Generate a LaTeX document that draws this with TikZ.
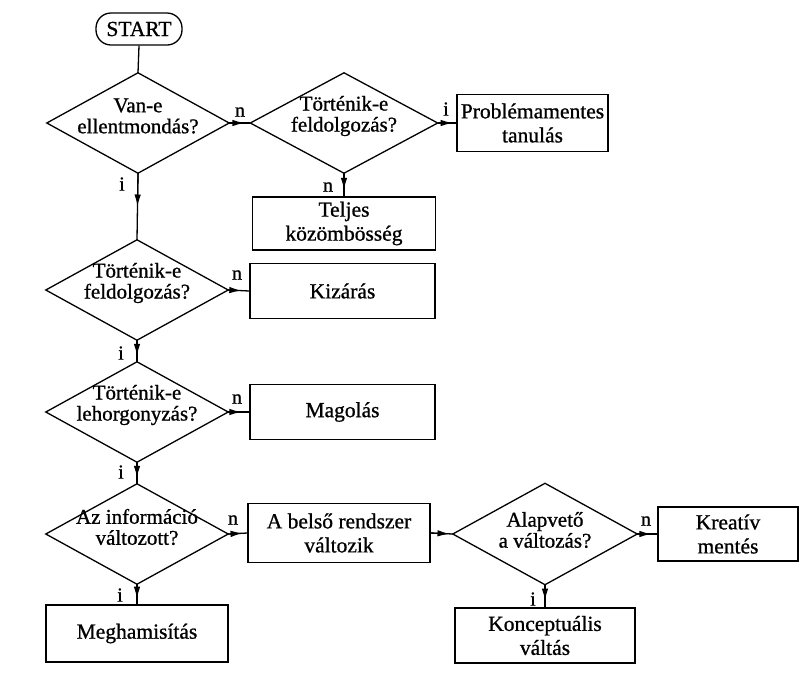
\documentclass[tikz,border=0pt]{standalone}
\usepackage{fontspec}
\setmainfont{Liberation Serif}[UprightFeatures={FakeBold=0.9}]
\usetikzlibrary{arrows.meta,calc}
\begin{document}
\begin{tikzpicture}[x=1pt,y=-1pt,
  box/.style={draw, line width=1.3pt, align=center, font=\fontsize{21.5}{24}\selectfont, inner sep=0pt},
  rbox/.style={box, rounded corners=15pt, minimum width=86pt, minimum height=32pt},
  dia/.style={inner sep=0pt, minimum width=182pt, minimum height=100pt},
  dtext/.style={align=center, font=\fontsize{21}{21}\selectfont, inner sep=0pt, yshift=7pt},
  lbl/.style={font=\fontsize{20}{20}\selectfont, inner sep=0pt},
  arrowpart/.style={line width=1.3pt, -{Latex[length=12pt,width=6.5pt]}},
  plain/.style={line width=1.3pt}]
\useasboundingbox (0,0) rectangle (800,673);

\node[rbox] (start) at (139,29) {START};
\node[dia, label={[dtext]center:{Van-e\\ellentmondás?}}] (d1) at (138,123) {};
\node[dia, minimum width=187pt, label={[dtext]center:{Történik-e\\feldolgozás?}}] (d2) at (344,123) {};
\node[box, minimum width=151pt, minimum height=57pt] (prob) at (532.5,123) {Problémamentes\\tanulás};
\node[box, minimum width=183pt, minimum height=53pt] (tel) at (344,223.5) {Teljes\\közömbösség};
\node[dia, label={[dtext]center:{Történik-e\\feldolgozás?}}] (d3) at (137,290) {};
\node[box, minimum width=185pt, minimum height=55pt] (kiz) at (342.5,291) {Kizárás};
\node[dia, label={[dtext]center:{Történik-e\\lehorgonyzás?}}] (d4) at (137,412) {};
\node[box, minimum width=185pt, minimum height=55pt] (mag) at (342.5,412) {Magolás};
\node[dia, label={[dtext]center:{Az információ\\változott?}}] (d5) at (137,534) {};
\node[box, minimum width=182pt, minimum height=59pt] (bel) at (339,533) {A belső rendszer\\változik};
\node[dia, minimum width=184pt, minimum height=101pt, label={[dtext,yshift=-3pt]center:{Alapvető\\a változás?}}] (d6) at (545,534) {};
\node[box, minimum width=140pt, minimum height=54pt] (kre) at (728,534) {Kreatív\\mentés};
\node[box, minimum width=182pt, minimum height=57pt] (meg) at (137,633.5) {Meghamisítás};
\node[box, minimum width=180pt, minimum height=55pt] (kon) at (545,635.5) {Konceptuális\\váltás};

\foreach \n in {d1,d2,d3,d4,d5,d6}
  \draw[plain] (\n.north) -- (\n.east) -- (\n.south) -- (\n.west) -- cycle;

\draw[plain] (start.south) -- (d1.north);
\foreach \a/\b/\p in {d1.south/d3.north/0.5, d1.east/d2.west/0.72, d2.east/prob.west/0.8,
  d2.south/tel.north/0.72, d3.east/kiz.west/0.62, d3.south/d4.north/0.72,
  d4.east/mag.west/0.62, d4.south/d5.north/0.72, d5.east/bel.west/0.75,
  d5.south/meg.north/0.72, bel.east/d6.west/0.85, d6.east/kre.west/0.7,
  d6.south/kon.north/0.7}
{
  \draw[plain] (\a) -- (\b);
  \draw[arrowpart] (\a) -- ($(\a)!\p!(\b)$);
}

\node[lbl] (l1) at (240,112) {n};
\node[lbl] (l2) at (122,184) {i};
\node[lbl] (l3) at (446,109) {i};
\node[lbl] (l4) at (328,187) {n};
\node[lbl] (l5) at (237,275) {n};
\node[lbl] (l6) at (121,353) {i};
\node[lbl] (l7) at (237,399) {n};
\node[lbl] (l8) at (121,472) {i};
\node[lbl] (l9) at (233,520) {n};
\node[lbl] (l10) at (120,595) {i};
\node[lbl] (l11) at (646,521) {n};
\node[lbl] (l12) at (533,599) {i};
\end{tikzpicture}
\end{document}
